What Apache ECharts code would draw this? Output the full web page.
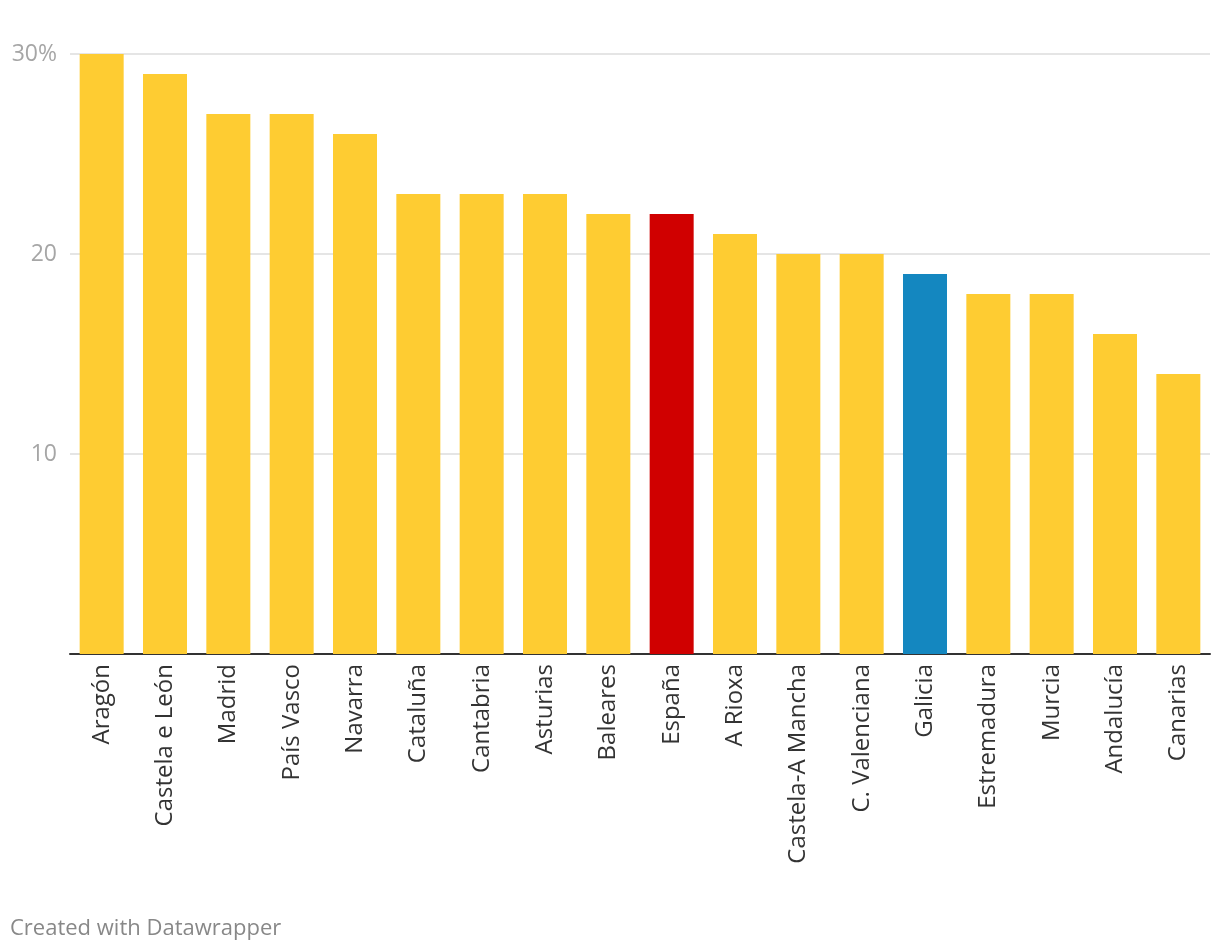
<!DOCTYPE html>
<html>
<head>
<meta charset="utf-8">
<script src="https://cdn.jsdelivr.net/npm/echarts@6/dist/echarts.min.js"></script>
<style>
html,body{margin:0;padding:0;background:#fff;}
#chart{width:1220px;height:952px;}
</style>
</head>
<body>
<div id="chart"></div>
<script>
const categories = ["Aragón","Castela e León","Madrid","País Vasco","Navarra","Cataluña","Cantabria","Asturias","Baleares","España","A Rioxa","Castela-A Mancha","C. Valenciana","Galicia","Estremadura","Murcia","Andalucía","Canarias"];
const values = [30,29,27,27,26,23,23,23,22,22,21,20,20,19,18,18,16,14];
const highlightRed = ["España"];
const highlightBlue = ["Galicia"];
const yTicks = {0:"",10:"10",20:"20",30:"30%"};

const YELLOW = "#fecc32", RED = "#d00000", BLUE = "#1487c0";
const font = "'Open Sans', 'Noto Sans', sans-serif";

const chart = echarts.init(document.getElementById('chart'), null, {renderer:'canvas'});
chart.setOption({
  animation:false,
  grid:{left:70,right:10,top:54,bottom:298,containLabel:false},
  xAxis:{
    type:'category',
    data:categories,
    axisLine:{show:true,lineStyle:{color:'#333',width:2}},
    axisTick:{show:false},
    axisLabel:{rotate:90,interval:0,margin:10,color:'#333',fontSize:24,fontFamily:font}
  },
  yAxis:{
    type:'value',min:0,max:30,interval:10,
    axisLine:{show:false},axisTick:{show:false},
    splitLine:{show:true,lineStyle:{color:'#e5e5e5',width:2}},
    axisLabel:{margin:13,color:'#a6a6a6',fontSize:23,fontFamily:font,
      formatter:v=>yTicks[v]!==undefined?yTicks[v]:String(v)}
  },
  series:[{
    type:'bar',
    barWidth:44,
    data:values.map((v,i)=>({value:v,itemStyle:{color:highlightRed.includes(categories[i])?RED:(highlightBlue.includes(categories[i])?BLUE:YELLOW)}}))
  }],
  graphic:[{type:'text',left:10,top:918,style:{text:'Created with Datawrapper',fill:'#888',fontSize:22,fontFamily:font}}]
});
</script>
</body>
</html>
